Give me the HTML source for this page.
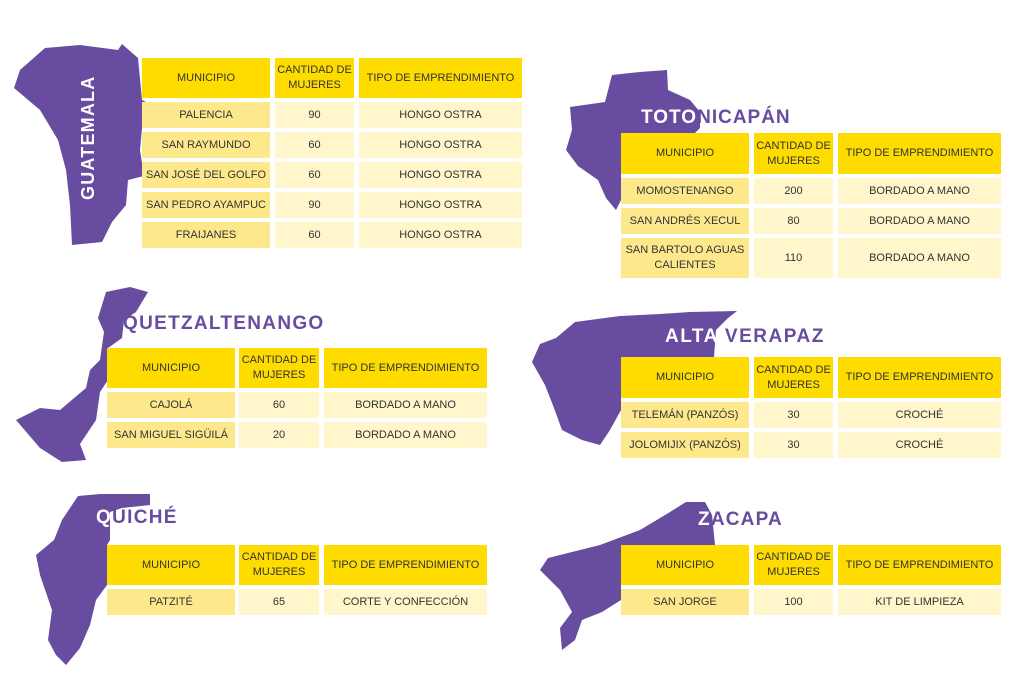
<!DOCTYPE html>
<html><head><meta charset="utf-8"><style>
body{margin:0;width:1024px;height:695px;background:#fff;position:relative;overflow:hidden;font-family:"Liberation Sans",sans-serif}
.c{position:absolute;display:flex;align-items:center;justify-content:center;text-align:center;font-size:11px;color:#333;line-height:15px}
.h{background:#ffdc00}.a{background:#fde98c}.b{background:#fff6cb}
.t{position:absolute;font-weight:bold;font-size:19px;color:#674ca0;letter-spacing:1.3px;white-space:nowrap}
.w{color:#fff}
svg{position:absolute;left:0;top:0}
</style></head><body>
<svg width="1024" height="695">
<g fill="#674ca0">
<path d="M45 48 L80 45 L118 50 L122 44 L138 58 L142 100 L150 104 L142 128 L140 150 L144 176 L128 180 L126 205 L112 222 L102 242 L72 245 L70 205 L66 170 L58 140 L40 110 L14 88 L20 70 Z"/>
<path d="M570 107 L605 102 L612 75 L640 72 L667 70 L668 90 L690 100 L700 112 L700 128 L694 134 L621 134 L621 200 L616 210 L606 198 L598 180 L578 166 L566 150 L572 130 Z"/>
<path d="M106 292 L130 287 L148 292 L136 312 L124 320 L122 338 L108 348 L108 380 L100 392 L96 420 L80 444 L86 460 L62 462 L40 448 L16 420 L40 408 L60 410 L86 388 L90 370 L100 360 L104 332 L98 318 Z"/>
<path d="M575 322 L620 316 L660 314 L690 312 L737 311 L728 318 L716 330 L714 357 L621 357 L621 410 L610 430 L600 445 L582 440 L562 430 L554 408 L545 385 L532 362 L540 344 L556 338 Z"/>
<path d="M78 496 L100 494 L150 494 L150 505 L122 508 L110 512 L110 540 L107 545 L107 585 L96 600 L90 625 L80 648 L66 665 L56 655 L48 640 L52 610 L40 575 L36 555 L54 540 L62 520 Z"/>
<path d="M686 502 L705 502 L712 515 L715 545 L621 545 L621 600 L602 612 L582 620 L575 640 L562 650 L560 628 L572 612 L560 590 L540 570 L548 558 L600 545 L640 530 L670 512 Z"/>
</g></svg>
<div class="t w" style="left:78px;top:200px;transform:rotate(-90deg);transform-origin:0 0;font-size:18px;letter-spacing:1.2px">GUATEMALA</div>
<div class="t" style="left:641px;top:107px;letter-spacing:1px"><span class="w">TOTO</span>NICAPÁN</div>
<div class="t" style="left:123px;top:313px">QUETZALTENANGO</div>
<div class="t" style="left:665px;top:326px;letter-spacing:1.5px"><span class="w">ALTA </span>VERAPAZ</div>
<div class="t" style="left:96px;top:507px"><span class="w">Q</span>UICHÉ</div>
<div class="t" style="left:698px;top:509px;letter-spacing:1.2px"><span class="w">Z</span>ACAPA</div>

<!-- Guatemala -->
<div class="c h" style="left:142px;top:58px;width:128px;height:40px">MUNICIPIO</div>
<div class="c h" style="left:275px;top:58px;width:79px;height:40px">CANTIDAD DE MUJERES</div>
<div class="c h" style="left:359px;top:58px;width:163px;height:40px">TIPO DE EMPRENDIMIENTO</div>
<div class="c a" style="left:142px;top:102px;width:128px;height:26px">PALENCIA</div><div class="c b" style="left:275px;top:102px;width:79px;height:26px">90</div><div class="c b" style="left:359px;top:102px;width:163px;height:26px">HONGO OSTRA</div>
<div class="c a" style="left:142px;top:132px;width:128px;height:26px">SAN RAYMUNDO</div><div class="c b" style="left:275px;top:132px;width:79px;height:26px">60</div><div class="c b" style="left:359px;top:132px;width:163px;height:26px">HONGO OSTRA</div>
<div class="c a" style="left:142px;top:162px;width:128px;height:26px">SAN JOSÉ DEL GOLFO</div><div class="c b" style="left:275px;top:162px;width:79px;height:26px">60</div><div class="c b" style="left:359px;top:162px;width:163px;height:26px">HONGO OSTRA</div>
<div class="c a" style="left:142px;top:192px;width:128px;height:26px">SAN PEDRO AYAMPUC</div><div class="c b" style="left:275px;top:192px;width:79px;height:26px">90</div><div class="c b" style="left:359px;top:192px;width:163px;height:26px">HONGO OSTRA</div>
<div class="c a" style="left:142px;top:222px;width:128px;height:26px">FRAIJANES</div><div class="c b" style="left:275px;top:222px;width:79px;height:26px">60</div><div class="c b" style="left:359px;top:222px;width:163px;height:26px">HONGO OSTRA</div>

<!-- Totonicapan -->
<div class="c h" style="left:621px;top:133px;width:128px;height:41px">MUNICIPIO</div>
<div class="c h" style="left:754px;top:133px;width:79px;height:41px">CANTIDAD DE MUJERES</div>
<div class="c h" style="left:838px;top:133px;width:163px;height:41px">TIPO DE EMPRENDIMIENTO</div>
<div class="c a" style="left:621px;top:178px;width:128px;height:26px">MOMOSTENANGO</div><div class="c b" style="left:754px;top:178px;width:79px;height:26px">200</div><div class="c b" style="left:838px;top:178px;width:163px;height:26px">BORDADO A MANO</div>
<div class="c a" style="left:621px;top:208px;width:128px;height:26px">SAN ANDRÉS XECUL</div><div class="c b" style="left:754px;top:208px;width:79px;height:26px">80</div><div class="c b" style="left:838px;top:208px;width:163px;height:26px">BORDADO A MANO</div>
<div class="c a" style="left:621px;top:238px;width:128px;height:40px">SAN BARTOLO AGUAS CALIENTES</div><div class="c b" style="left:754px;top:238px;width:79px;height:40px">110</div><div class="c b" style="left:838px;top:238px;width:163px;height:40px">BORDADO A MANO</div>

<!-- Quetzaltenango -->
<div class="c h" style="left:107px;top:348px;width:128px;height:40px">MUNICIPIO</div>
<div class="c h" style="left:239px;top:348px;width:80px;height:40px">CANTIDAD DE MUJERES</div>
<div class="c h" style="left:324px;top:348px;width:163px;height:40px">TIPO DE EMPRENDIMIENTO</div>
<div class="c a" style="left:107px;top:392px;width:128px;height:26px">CAJOLÁ</div><div class="c b" style="left:239px;top:392px;width:80px;height:26px">60</div><div class="c b" style="left:324px;top:392px;width:163px;height:26px">BORDADO A MANO</div>
<div class="c a" style="left:107px;top:422px;width:128px;height:26px">SAN MIGUEL SIGÜILÁ</div><div class="c b" style="left:239px;top:422px;width:80px;height:26px">20</div><div class="c b" style="left:324px;top:422px;width:163px;height:26px">BORDADO A MANO</div>

<!-- Alta Verapaz -->
<div class="c h" style="left:621px;top:357px;width:128px;height:41px">MUNICIPIO</div>
<div class="c h" style="left:754px;top:357px;width:79px;height:41px">CANTIDAD DE MUJERES</div>
<div class="c h" style="left:838px;top:357px;width:163px;height:41px">TIPO DE EMPRENDIMIENTO</div>
<div class="c a" style="left:621px;top:402px;width:128px;height:26px">TELEMÁN (PANZÓS)</div><div class="c b" style="left:754px;top:402px;width:79px;height:26px">30</div><div class="c b" style="left:838px;top:402px;width:163px;height:26px">CROCHÉ</div>
<div class="c a" style="left:621px;top:432px;width:128px;height:26px">JOLOMIJIX (PANZÓS)</div><div class="c b" style="left:754px;top:432px;width:79px;height:26px">30</div><div class="c b" style="left:838px;top:432px;width:163px;height:26px">CROCHÉ</div>

<!-- Quiche -->
<div class="c h" style="left:107px;top:545px;width:128px;height:40px">MUNICIPIO</div>
<div class="c h" style="left:239px;top:545px;width:80px;height:40px">CANTIDAD DE MUJERES</div>
<div class="c h" style="left:324px;top:545px;width:163px;height:40px">TIPO DE EMPRENDIMIENTO</div>
<div class="c a" style="left:107px;top:589px;width:128px;height:26px">PATZITÉ</div><div class="c b" style="left:239px;top:589px;width:80px;height:26px">65</div><div class="c b" style="left:324px;top:589px;width:163px;height:26px">CORTE Y CONFECCIÓN</div>

<!-- Zacapa -->
<div class="c h" style="left:621px;top:545px;width:128px;height:40px">MUNICIPIO</div>
<div class="c h" style="left:754px;top:545px;width:79px;height:40px">CANTIDAD DE MUJERES</div>
<div class="c h" style="left:838px;top:545px;width:163px;height:40px">TIPO DE EMPRENDIMIENTO</div>
<div class="c a" style="left:621px;top:589px;width:128px;height:26px">SAN JORGE</div><div class="c b" style="left:754px;top:589px;width:79px;height:26px">100</div><div class="c b" style="left:838px;top:589px;width:163px;height:26px">KIT DE LIMPIEZA</div>
</body></html>
